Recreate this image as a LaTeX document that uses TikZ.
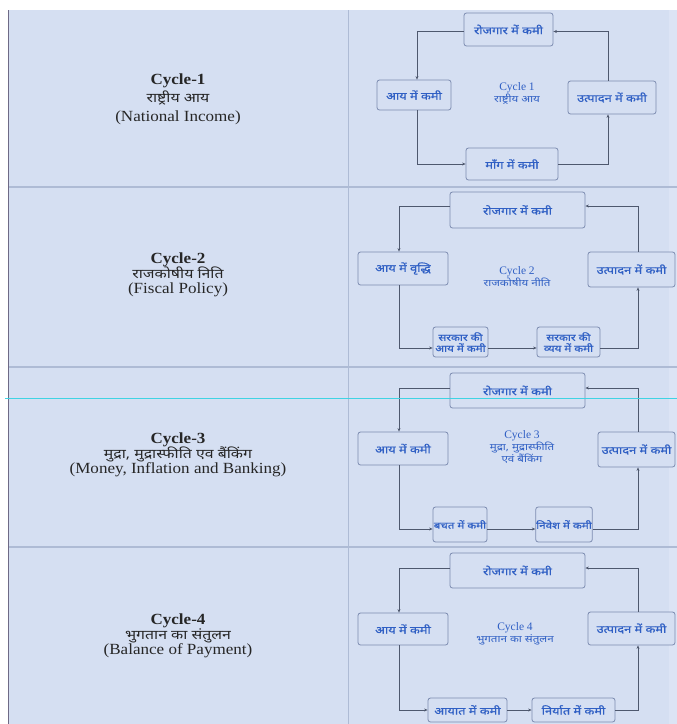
\documentclass[tikz,border=0pt]{standalone}
\usepackage{fontspec}
\setmainfont{Liberation Serif}
\newfontfamily\engw[FakeStretch=1.1]{Liberation Serif}
\newfontfamily\hi[Script=Devanagari, FakeStretch=1.22]{Noto Sans}
\newfontfamily\hib[Script=Devanagari, FakeStretch=1.22, FakeBold=0.8]{Noto Sans}
\usetikzlibrary{arrows.meta}
\definecolor{bg}{HTML}{D5DFF2}
\definecolor{bgr}{HTML}{DCE4F5}
\definecolor{grid}{HTML}{AEBBD5}
\definecolor{edge}{HTML}{6E6A86}
\definecolor{boxline}{HTML}{7C8CB0}
\definecolor{boxtext}{HTML}{2F5FC4}
\definecolor{conn}{HTML}{4E586E}
\definecolor{cyanline}{HTML}{3FD3E3}
\tikzset{
  cbox/.style={draw=boxline, rounded corners=2.5pt, fill=bg, text=boxtext,
    font=\hib\fontsize{10.5}{11.5}\selectfont, align=center, inner sep=0.5pt, line width=0.8pt},
  arr/.style={draw=conn, line width=0.7pt, -{Stealth[length=3.5pt,width=3pt]}},
  lefttitle/.style={align=center, text=black!85, font=\engw\fontsize{15.5}{15}\selectfont},
  ctitle/.style={align=center, text=boxtext, font=\fontsize{11.5}{12}\selectfont},
}
\newcommand{\hs}[1]{{\hi\fontsize{13}{15}\selectfont #1}}
\newcommand{\hc}[1]{{\hi\fontsize{9.5}{11}\selectfont #1}}
\begin{document}
\begin{tikzpicture}[x=1pt,y=-1pt]
\useasboundingbox (0,0) rectangle (677,724);
\fill[white] (0,0) rectangle (677,724);
\fill[bg] (8,10) rectangle (677,724);
\fill[bgr] (669,10) rectangle (677,724);
% grid lines
\draw[grid, line width=1.2pt] (8,187) -- (677,187);
\draw[grid, line width=1.2pt] (8,367) -- (677,367);
\draw[grid, line width=1.2pt] (8,547) -- (677,547);
\draw[grid, line width=1.2pt] (348.5,10) -- (348.5,724);
\draw[edge, line width=1.3pt] (8.5,10) -- (8.5,724);

% ---------- left column ----------
\node[lefttitle, font=\engw\fontsize{15.5}{18.5}\selectfont] (L1) at (178,99) {\textbf{Cycle-1}\\\hs{राष्ट्रीय आय}\\(National Income)};
\node[lefttitle] (L2) at (178,275) {\textbf{Cycle-2}\\\hs{राजकोषीय निति}\\(Fiscal Policy)};
\node[lefttitle] (L3) at (178,455) {\textbf{Cycle-3}\\\hs{मुद्रा, मुद्रास्फीति एव बैंकिंग}\\(Money, Inflation and Banking)};
\node[lefttitle] (L4) at (178,636) {\textbf{Cycle-4}\\\hs{भुगतान का संतुलन}\\(Balance of Payment)};

% ---------- cycle 1 ----------
\node[cbox, minimum width=89pt, minimum height=33pt] (t1) at (508.5,29.5) {रोजगार में कमी};
\node[cbox, minimum width=74pt, minimum height=30pt] (l1) at (414,95) {आय में कमी};
\node[cbox, minimum width=88pt, minimum height=33pt] (r1) at (612,97.5) {उत्पादन में कमी};
\node[cbox, minimum width=92pt, minimum height=32pt] (b1) at (512,164) {माँग में कमी};
\node[ctitle] (c1) at (517,93) {Cycle 1\\\hc{राष्ट्रीय आय}};
\draw[arr] ([yshift=-2pt]t1.west) -| ([xshift=3pt]l1.north);
\draw[arr] ([xshift=3pt]l1.south) |- (b1.west);
\draw[arr] (b1.east) -| ([xshift=-4pt]r1.south);
\draw[arr] ([xshift=-4pt]r1.north) |- ([yshift=-2pt]t1.east);

% ---------- cycle 2 ----------
\node[cbox, minimum width=135pt, minimum height=36pt] (t2) at (517.5,210) {रोजगार में कमी};
\node[cbox, minimum width=90pt, minimum height=33pt] (l2) at (403,268.5) {आय में वृद्धि};
\node[cbox, minimum width=87pt, minimum height=35pt] (r2) at (631.5,269.5) {उत्पादन में कमी};
\node[cbox, minimum width=55pt, minimum height=30pt, font=\hib\fontsize{9.5}{11}\selectfont] (bl2) at (460.5,342) {सरकार की\\आय में कमी};
\node[cbox, minimum width=63pt, minimum height=30pt, font=\hib\fontsize{9.5}{11}\selectfont] (br2) at (568.5,342) {सरकार की\\व्यय में कमी};
\node[ctitle] (c2) at (517,277) {Cycle 2\\\hc{राजकोषीय नीति}};
\draw[arr] ([yshift=4pt]t2.west) -| ([xshift=-4pt]l2.north);
\draw[arr] ([xshift=-4pt]l2.south) |- ([yshift=-6pt]bl2.west);
\draw[arr] ([yshift=-6pt]bl2.east) -- ([yshift=-6pt]br2.west);
\draw[arr] ([yshift=-6pt]br2.east) -| ([xshift=6.5pt]r2.south);
\draw[arr] ([xshift=6.5pt]r2.north) |- ([yshift=4pt]t2.east);

% ---------- cycle 3 ----------
\node[cbox, minimum width=135pt, minimum height=35pt] (t3) at (517.5,390.5) {रोजगार में कमी};
\node[cbox, minimum width=90pt, minimum height=33pt] (l3) at (403,448.5) {आय में कमी};
\node[cbox, minimum width=77pt, minimum height=35pt] (r3) at (636.5,449.5) {उत्पादन में कमी};
\node[cbox, minimum width=54pt, minimum height=35pt, font=\hib\fontsize{9.5}{11}\selectfont] (bl3) at (460,524.5) {बचत में कमी};
\node[cbox, minimum width=54pt, minimum height=35pt, font=\hib\fontsize{9.5}{11}\selectfont] (br3) at (564,524.5) {निवेश में कमी};
\node[ctitle] (c3) at (522,447) {Cycle 3\\\hc{मुद्रा, मुद्रास्फीति}\\\hc{एवं बैंकिंग}};
\draw[arr] ([yshift=2.5pt]t3.west) -| ([xshift=-4pt]l3.north);
\draw[arr] ([xshift=-4pt]l3.south) |- ([yshift=-4.5pt]bl3.west);
\draw[arr] ([yshift=-4.5pt]bl3.east) -- ([yshift=-4.5pt]br3.west);
\draw[arr] ([yshift=-4.5pt]br3.east) -| ([xshift=1.5pt]r3.south);
\draw[arr] ([xshift=1.5pt]r3.north) |- ([yshift=2.5pt]t3.east);

% ---------- cycle 4 ----------
\node[cbox, minimum width=135pt, minimum height=35pt] (t4) at (517.5,570.5) {रोजगार में कमी};
\node[cbox, minimum width=90pt, minimum height=32pt] (l4) at (403,629) {आय में कमी};
\node[cbox, minimum width=87pt, minimum height=33pt] (r4) at (631.5,628.5) {उत्पादन में कमी};
\node[cbox, minimum width=79pt, minimum height=24pt] (bl4) at (467.5,710) {आयात में कमी};
\node[cbox, minimum width=83pt, minimum height=24pt] (br4) at (573.5,710) {निर्यात में कमी};
\node[ctitle] (c4) at (515,634) {Cycle 4\\\hc{भुगतान का संतुलन}};
\draw[arr] ([yshift=2.5pt]t4.west) -| ([xshift=-4pt]l4.north);
\draw[arr] ([xshift=-4pt]l4.south) |- (bl4.west);
\draw[arr] (bl4.east) -- (br4.west);
\draw[arr] (br4.east) -| ([xshift=6.5pt]r4.south);
\draw[arr] ([xshift=6.5pt]r4.north) |- ([yshift=2.5pt]t4.east);

% cyan guide line drawn over everything
\draw[cyanline, line width=1pt] (5,398) -- (677,398);
\end{tikzpicture}
\end{document}
